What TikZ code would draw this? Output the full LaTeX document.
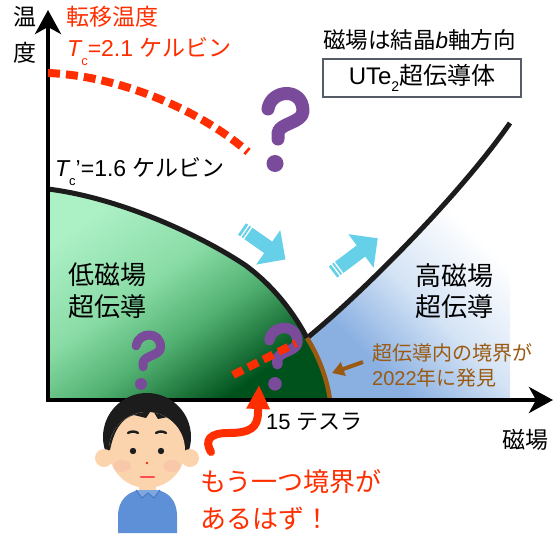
\documentclass[tikz,border=0pt]{standalone}
\usepackage{fontspec}
\setmainfont{Noto Sans CJK JP}
\newfontfamily\lsans{Liberation Sans}
\usetikzlibrary{arrows.meta}

\definecolor{tcred}{HTML}{FF2E00}
\definecolor{qpurple}{HTML}{7A4A9B}
\definecolor{flowcyan}{HTML}{66D0E8}
\definecolor{foundbrown}{HTML}{9A5A12}
\definecolor{framegray}{HTML}{565C66}
\definecolor{gdark}{HTML}{00521C}
\definecolor{gmid}{HTML}{52B272}
\definecolor{glight}{HTML}{8ADCA6}
\definecolor{gtop}{HTML}{ACF0C6}
\definecolor{bdeep}{HTML}{8AB0E2}
\definecolor{bmid}{HTML}{D4E3F5}
\definecolor{skin}{HTML}{FBD4AE}
\definecolor{blush}{HTML}{F6B0A0}
\definecolor{shirt}{HTML}{5E90D8}
\definecolor{shirtline}{HTML}{4A78BE}
\definecolor{hair}{HTML}{1C1C1C}

\pgfdeclareverticalshading{lowfield}{100bp}{color(0bp)=(gdark); color(28bp)=(gdark); color(44bp)=(gmid); color(57bp)=(glight); color(75bp)=(gtop); color(100bp)=(gtop)}
\pgfdeclareverticalshading{highfield}{100bp}{color(0bp)=(bdeep); color(30bp)=(bdeep); color(46bp)=(bmid); color(64bp)=(white); color(100bp)=(white)}

\newcommand\jpsize[2]{\fontsize{#1}{#2}\selectfont}
% x, y, scale, stroke width
\newcommand\questionmark[4]{%
  \begin{scope}[shift={(#1,#2)},scale=#3]
    \draw[qpurple, line width=#4pt, line cap=round, line join=round] (-17,-16) .. controls (-14,-36) and (18,-38) .. (18,-14) .. controls (18,-2) and (-6,-2) .. (-7,8) -- (-7,14);
    \fill[qpurple] (-10,38.5) circle (8.5);
  \end{scope}}
% tail x, tail y, angle, length
\newcommand\fieldarrow[4]{%
  \begin{scope}[shift={(#1,#2)},rotate=#3]
    \fill[flowcyan] (0,-7) -- ({#4-21},-7) -- ({#4-21},-21) -- (#4,0) -- ({#4-21},21) -- ({#4-21},7) -- (0,7) -- cycle;
    \draw[white, line width=1.3pt] (3.5,-9) -- (3.5,9) (7,-9) -- (7,9);
  \end{scope}}

\tikzset{
txt/.style={inner sep=0pt, anchor=west},
axisline/.style={line width=4.5pt, line join=miter, {Stealth[length=24pt,width=26pt,inset=7pt]}-{Stealth[length=24pt,width=26pt,inset=7pt]}},
phaseline/.style={line width=5pt, hair},
tcdash/.style={tcred, line width=8pt, dash pattern=on 12pt off 6pt},
foundline/.style={foundbrown, line width=4.5pt},
remark/.style={tcred, line width=8pt, line cap=round, -{Triangle[length=24pt,width=22pt]}},
crystalbox/.style={draw=framegray, line width=2.5pt, minimum width=198pt, minimum height=38pt, inner sep=0pt}
}

\begin{document}
\begin{tikzpicture}[x=1pt,y=-1pt]
\useasboundingbox (0,0) rectangle (557,533);

\coordinate (origin) at (48,400);
\coordinate (ytop) at (48,10);
\coordinate (xend) at (553,400);
\coordinate (tcprime) at (48,189);
\coordinate (triple) at (307,338);
\coordinate (hcend) at (510,123);
\coordinate (foundfoot) at (330,400);

% phases
\shade[shading=lowfield, shading angle=35] (tcprime) .. controls (120,198) and (200,235) .. (245,265) .. controls (275,287) and (295,315) .. (triple) .. controls (318,355) and (327,378) .. (foundfoot) -- (origin) -- cycle;
\shade[shading=highfield, shading angle=-45] (triple) .. controls (360,295) and (460,195) .. (hcend) -- (510,400) -- (foundfoot) .. controls (327,378) and (318,355) .. (triple) -- cycle;

\draw[phaseline] (tcprime) .. controls (120,198) and (200,235) .. (245,265) .. controls (275,287) and (295,315) .. (triple);
\draw[phaseline] (triple) .. controls (360,295) and (460,195) .. (hcend);
\draw[foundline] (triple) .. controls (318,355) and (327,378) .. (foundfoot);
\draw[axisline] (ytop) -- (origin) -- (xend);

\draw[tcdash] (48,73) .. controls (120,76) and (200,110) .. (248,152);

\foreach \qx/\qy/\qs/\qw in {285/125/1/13, 148/357/0.7/9, 283/353/0.8/10.5}
  \questionmark{\qx}{\qy}{\qs}{\qw};
\draw[tcdash, dash pattern=on 11pt off 6pt] (233,375) -- (296,343);

\foreach \ax/\ay/\aa/\al in {242/229/-35/53, 333/272/37/56}
  \fieldarrow{\ax}{\ay}{\aa}{\al};

% labels
\node[font=\jpsize{23}{36}, align=center, inner sep=0pt] (ylabel) at (25,35) {温\\度};
\node[txt, tcred, font=\jpsize{23}{28}] (tctitle) at (66,17) {転移温度};
\node[txt, tcred, font=\jpsize{23}{28}] (tcvalue) at (67,52) {{\lsans\itshape T}\raisebox{-9pt}{\lsans\jpsize{13}{13}c}{\lsans =2.1 }ケルビン};
\node[txt, font=\jpsize{23}{28}] (tclow) at (55,172) {{\lsans\itshape T}\raisebox{-9pt}{\lsans\jpsize{13}{13}c}{\lsans ’=1.6 }ケルビン};
\node[txt, font=\jpsize{22.5}{28}] (fielddir) at (323,40) {磁場は結晶{\lsans\itshape b}軸方向};
\node[crystalbox, font=\jpsize{24}{28}] (sample) at (422,78) {{\lsans UTe\raisebox{-7pt}{\jpsize{14}{14}2}}超伝導体};
\node[txt, font=\jpsize{26}{32}, align=left] (lowsc) at (68,291) {低磁場\\超伝導};
\node[txt, font=\jpsize{26}{31}, align=left] (highsc) at (415,291) {高磁場\\超伝導};
\node[txt, foundbrown, font=\jpsize{20}{25}, align=left] (found) at (372,365) {超伝導内の境界が\\{\lsans 2022}年に発見};
\node[txt, font=\jpsize{22}{26}] (tesla) at (266,422) {{\lsans 15 }テスラ};
\node[txt, font=\jpsize{23}{28}] (xlabel) at (502,440) {磁場};
\node[txt, tcred, font=\jpsize{26}{37}, align=left] (remarktext) at (200,500) {もう一つ境界が\\あるはず！};

\coordinate (foundtip) at (332,373);
\draw[foundbrown, line width=4pt, -{Triangle[length=12pt,width=14pt]}] ([xshift=-9pt,yshift=3pt]found.west) -- (foundtip);

\coordinate (remarkfoot) at (211,452);
\coordinate (guessline) at (259,385);
\draw[remark] (remarkfoot) .. controls (204,440) and (210,433) .. (228,433) .. controls (250,433) and (258,428) .. (258,412) -- (guessline);

% the puzzled boy
\fill[skin] (139,482) rectangle (156,492);
\fill[shirt] (118,533) -- (118,516) .. controls (118,500) and (128,492) .. (139,490) -- (157,490) .. controls (168,492) and (177,500) .. (177,516) -- (177,533) -- cycle;
\draw[shirtline, line width=1pt, fill=shirt!80!white] (136,490) -- (142,498) -- (148,493) -- (154,498) -- (160,490);
\fill[hair] (147,437) ellipse (44 and 44);
\fill[skin] (104,458) circle (9) (190,458) circle (9);
\fill[skin] (147,450) ellipse (38 and 38);
\begin{scope}
  \clip (147,450) ellipse (38 and 38);
  \fill[hair] (100,390) -- (200,390) -- (200,450) -- (186,448) .. controls (184,432) and (180,421) .. (168,417) -- (158,419) -- (152,409) -- (146,418) -- (134,415) .. controls (122,418) and (114,430) .. (110,450) -- (100,450) -- cycle;
\end{scope}
\fill[blush, opacity=0.35] (122,466) ellipse (9 and 6) (172,466) ellipse (9 and 6);
\fill[hair] (133,451) circle (3.2) (161,451) circle (3.2);
\draw[hair, line width=2.4pt, line cap=round] (128,433) .. controls (131,431) and (135,431) .. (138,433) (156,433) .. controls (159,431) and (163,431) .. (166,433);
\fill[red!60!brown] (147,463) circle (1.3);
\draw[red!60!pink, line width=2.4pt, line cap=round] (141,477) -- (154,477);
\end{tikzpicture}
\end{document}
